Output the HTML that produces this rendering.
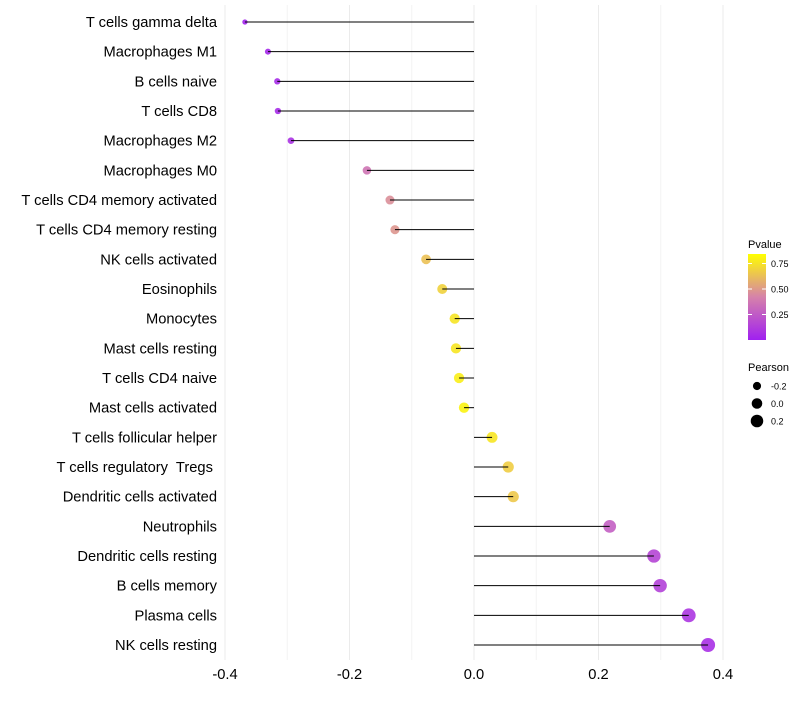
<!DOCTYPE html>
<html><head><meta charset="utf-8"><style>
body{margin:0;background:#fff;font-family:"Liberation Sans",sans-serif}
text{white-space:pre}
</style></head><body>
<svg id="c" width="800" height="700" xmlns="http://www.w3.org/2000/svg"></svg>
<script>
const categories=["T cells gamma delta","Macrophages M1","B cells naive","T cells CD8","Macrophages M2","Macrophages M0","T cells CD4 memory activated","T cells CD4 memory resting","NK cells activated","Eosinophils","Monocytes","Mast cells resting","T cells CD4 naive","Mast cells activated","T cells follicular helper","T cells regulatory  Tregs ","Dendritic cells activated","Neutrophils","Dendritic cells resting","B cells memory","Plasma cells","NK cells resting"];
const pearson=[-0.368,-0.331,-0.316,-0.315,-0.294,-0.172,-0.135,-0.127,-0.077,-0.051,-0.031,-0.029,-0.024,-0.016,0.029,0.055,0.063,0.218,0.289,0.299,0.345,0.376];
const pvalue=[0.02,0.04,0.06,0.06,0.09,0.43,0.55,0.58,0.75,0.82,0.89,0.90,0.93,0.95,0.90,0.80,0.78,0.32,0.19,0.17,0.11,0.08];
const xTicks=[-0.4,-0.2,0.0,0.2,0.4];
const xTickLabels=["-0.4","-0.2","0.0","0.2","0.4"];
const pTicks=[0.25,0.5,0.75];
const pTickLabels=["0.25","0.50","0.75"];
const sizeLegend=[-0.2,0.0,0.2];
const sizeLegendLabels=["-0.2","0.0","0.2"];

const svg=document.getElementById('c');
const NS="http://www.w3.org/2000/svg";
const x=v=>474+v*622.5;
const y=i=>22+i*29.667;
const rad=v=>Math.sqrt(Math.max(2.5,28+57*v));
function col(p){const a=[160,32,240],b=[255,255,0];
 const m=[214,130,170];let c;
 if(p<0.5){const t=p/0.5;c=a.map((v,k)=>v+(m[k]-v)*t);}else{const t=(p-0.5)/0.5;c=m.map((v,k)=>v+(b[k]-v)*t);}
 return `rgb(${c.map(Math.round).join(',')})`;}
function el(t,at,txt){const e=document.createElementNS(NS,t);for(const k in at)e.setAttribute(k,at[k]);if(txt!==undefined)e.textContent=txt;svg.appendChild(e);return e;}

for(let v=-0.4;v<=0.401;v+=0.1){const g=el('line',{x1:x(v),x2:x(v),y1:5,y2:660,stroke:Math.abs(Math.round(v*10))%2==0?'#ebebeb':'#f3f3f3','stroke-width':1});

}
categories.forEach((c,i)=>{
 const p=el('circle',{cx:x(pearson[i]),cy:y(i),r:rad(pearson[i]),fill:col(pvalue[i]),'fill-opacity':0.9});
 
 
 const s=el('line',{x1:x(0),x2:x(pearson[i]),y1:y(i),y2:y(i),stroke:'#000','stroke-width':1});
 
 
 const t=el('text',{x:217,y:y(i)+5,'text-anchor':'end','font-size':14.7,fill:'#000'},c);
 
 
});
xTicks.forEach((v,i)=>{const t=el('text',{x:x(v),y:679,'text-anchor':'middle','font-size':14.7,fill:'#000'},xTickLabels[i]);

});
const defs=el('defs',{});
const lg=document.createElementNS(NS,'linearGradient');lg.setAttribute('id','g');lg.setAttribute('x1','0');lg.setAttribute('y1','1');lg.setAttribute('x2','0');lg.setAttribute('y2','0');
for(let k=0;k<=10;k++){const s=document.createElementNS(NS,'stop');s.setAttribute('offset',k/10);s.setAttribute('stop-color',col(k/10));lg.appendChild(s);}
defs.appendChild(lg);
const pv=p=>340-(p-0.0)*102;
const lt=el('text',{x:748,y:248,'font-size':11},'Pvalue');


const cb=el('rect',{x:748,y:254,width:18,height:86,fill:'url(#g)'});


pTicks.forEach((p,i)=>{el('line',{x1:748,x2:752,y1:pv(p),y2:pv(p),stroke:'#fff'});el('line',{x1:762,x2:766,y1:pv(p),y2:pv(p),stroke:'#fff'});
const t=el('text',{x:771,y:pv(p)+3.5,'font-size':9},pTickLabels[i]);

});
const st=el('text',{x:748,y:371,'font-size':11},'Pearson');


sizeLegend.forEach((v,i)=>{const cy=386+i*17.5;
const c=el('circle',{cx:757,cy:cy,r:rad(v),fill:'#000'});


const t=el('text',{x:771,y:cy+3.5,'font-size':9},sizeLegendLabels[i]);

});
</script>
</body></html>
